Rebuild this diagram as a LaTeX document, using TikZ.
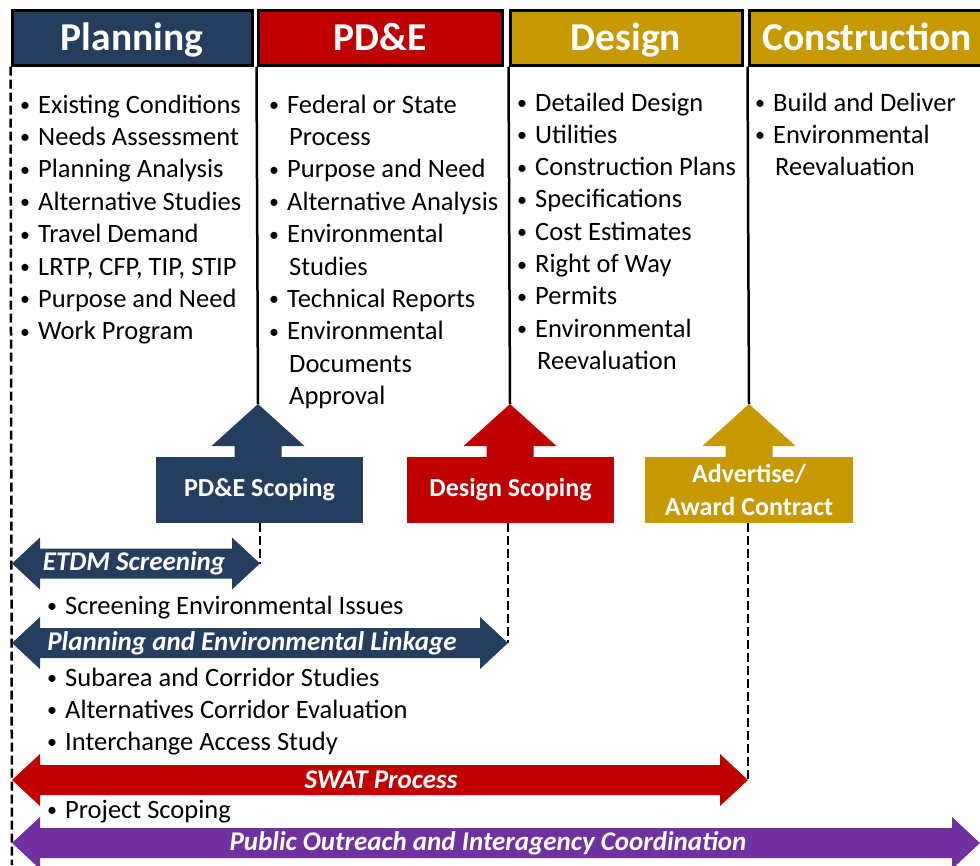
\documentclass[tikz,border=0pt]{standalone}
\usepackage{fontspec}
\setmainfont{Carlito}
\definecolor{navy}{RGB}{37,62,96}
\definecolor{dred}{RGB}{192,0,0}
\definecolor{gold}{RGB}{199,153,0}
\definecolor{purp}{RGB}{112,48,160}
\newcommand\bul{\llap{\raisebox{1.5pt}{\fontsize{20}{20}\selectfont •}\kern8pt}}
\newcommand\uparr[2]{\fill[#1] (#2) -- ++(46.5,42) -- ++(-23,0) -- ++(0,12) -- ++(-47,0) -- ++(0,-12) -- ++(-23,0) -- cycle;}
\newcommand\dblarr[4]{\fill[#1] (#2,#4) -- ++(28,-26) -- ++(0,11) -- ({#3-28},{#4-15}) -- ++(0,-11) -- (#3,#4) -- ++(-28,26) -- ++(0,-11) -- ({#2+28},{#4+15}) -- ++(0,11) -- cycle;}
\begin{document}
\begin{tikzpicture}[x=1pt,y=-1pt,
  hdr/.style={draw=black, line width=3pt, minimum height=55pt, text=white,
    font=\fontsize{39.5}{40}\selectfont\bfseries, text height=25pt, text depth=0pt, inner sep=0pt},
  scopebox/.style={minimum width=207pt, minimum height=66pt, text=white,
    font=\fontsize{26}{33}\selectfont\bfseries, align=center, inner sep=0pt},
  item/.style={anchor=base west, inner sep=0pt, font=\fontsize{26.5}{32}\selectfont},
  albl/.style={text=white, font=\fontsize{27}{30}\selectfont\bfseries\itshape, inner sep=0pt},
  vline/.style={line width=2.5pt},
  dline/.style={line width=2.5pt, dash pattern=on 9pt off 4pt}]
\useasboundingbox (0,0) rectangle (980,865);
\clip (0,0) rectangle (980,865);

% headers
\node[hdr, fill=navy, minimum width=240pt] (hplan) at (132,37.5) {Planning};
\node[hdr, fill=dred, minimum width=244pt] (hpde) at (380,37.5) {PD\&E};
\node[hdr, fill=gold, minimum width=232pt] (hdes) at (626,37.5) {Design};
\node[hdr, fill=gold, minimum width=236pt] (hcon) at (867,37.5) {Construction};

% tip coordinates
\coordinate (tip1) at (258,404);
\coordinate (tip2) at (510,404);
\coordinate (tip3) at (749,404);
\coordinate (leftend) at (12,865);
\coordinate (etdmR) at (260,563.5);
\coordinate (pelR) at (508,643);
\coordinate (swatR) at (748,780);

% vertical lines
\draw[dline] (hplan.south west) -- (leftend);
\draw[vline] (hpde.south west) -- (tip1);
\draw[vline] (hdes.south west) -- (tip2);
\draw[vline] (hcon.south west) -- (tip3);

% scoping boxes with up arrows
\uparr{navy}{tip1}
\uparr{dred}{tip2}
\uparr{gold}{tip3}
\node[scopebox, fill=navy] (s1) at (259.5,490) {PD\&E Scoping};
\node[scopebox, fill=dred] (s2) at (510.5,490) {Design Scoping};
\node[scopebox, fill=gold, minimum width=208pt] (s3) at (749,490) {Advertise/\\Award Contract};

% dashed drops
\draw[dline] (etdmR |- s1.south) -- (etdmR);
\draw[dline] (pelR |- s2.south) -- (pelR);
\draw[dline] (swatR |- s3.south) -- (swatR);

% double arrows
\dblarr{navy}{12}{260}{563.5}
\dblarr{navy}{12}{508}{643}
\dblarr{dred}{12}{748}{780}
\dblarr{purp}{12}{980}{843}
\node[albl] (letdm) at (134,563) {ETDM Screening};
\node[albl] (lpel) at (252,643) {Planning and Environmental Linkage};
\node[albl] (lswat) at (381,780) {SWAT Process};
\node[albl] (lpub) at (488,843) {Public Outreach and Interagency Coordination};

% lists
\foreach \t [count=\i] in {Existing Conditions, Needs Assessment, Planning Analysis,
  Alternative Studies, Travel Demand, {LRTP, CFP, TIP, STIP}, Purpose and Need, Work Program}
  \node[item] (pl\i) at (38,{113+32.4*(\i-1)}) {\bul\t};

\foreach \b/\t [count=\i] in {1/Federal or State, 0/Process, 1/Purpose and Need,
  1/Alternative Analysis, 1/Environmental, 0/Studies, 1/Technical Reports,
  1/Environmental, 0/Documents, 0/Approval}
  \node[item] (pd\i) at ({287+2*(1-\b)},{113+32.4*(\i-1)}) {\ifnum\b=1 \bul\fi\t};

\foreach \b/\t [count=\i] in {1/Detailed Design, 1/Utilities, 1/Construction Plans,
  1/Specifications, 1/Cost Estimates, 1/Right of Way, 1/Permits,
  1/Environmental, 0/Reevaluation}
  \node[item] (de\i) at ({535+2*(1-\b)},{111+32.3*(\i-1)}) {\ifnum\b=1 \bul\fi\t};

\foreach \b/\t [count=\i] in {1/Build and Deliver, 1/Environmental, 0/Reevaluation}
  \node[item] (co\i) at ({773+2*(1-\b)},{111+32.3*(\i-1)}) {\ifnum\b=1 \bul\fi\t};

\node[item] (b1) at (65,614) {\bul Screening Environmental Issues};
\node[item] (b2) at (65,686) {\bul Subarea and Corridor Studies};
\node[item] (b3) at (65,718) {\bul Alternatives Corridor Evaluation};
\node[item] (b4) at (65,750) {\bul Interchange Access Study};
\node[item] (b5) at (65,818) {\bul Project Scoping};
\end{tikzpicture}
\end{document}
